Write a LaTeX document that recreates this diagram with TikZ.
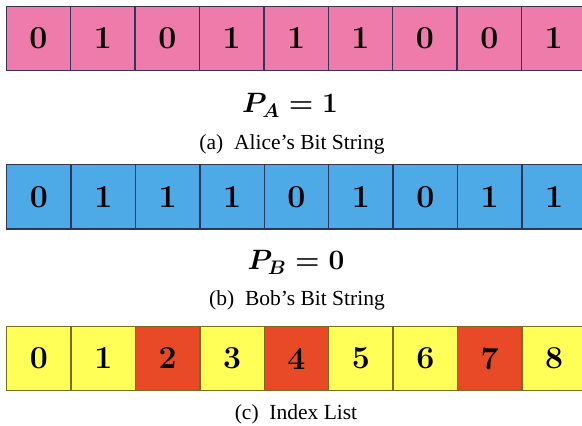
\RequirePackage{fix-cm}
\documentclass[tikz,border=0pt]{standalone}
\usepackage{amsmath}
\usepackage[no-math]{fontspec}
\newfontfamily\capfont{Liberation Serif}
\definecolor{pinkc}{HTML}{EE7BAA}
\definecolor{bluec}{HTML}{4DAAE6}
\definecolor{yellowc}{HTML}{FFFF57}
\definecolor{redc}{HTML}{E84A27}
\definecolor{navyb}{HTML}{2E3856}
\definecolor{oliveb}{HTML}{7D6A1E}
\tikzset{
  cell/.style={draw=navyb, line width=1.5pt, minimum width=64.4pt, minimum height=64.4pt, inner sep=0pt, outer sep=0pt,
    font=\fontsize{32}{32}\selectfont\bfseries},
  pcell/.style={cell, fill=pinkc},
  bcell/.style={cell, fill=bluec},
  ycell/.style={cell, fill=yellowc, draw=oliveb},
  rcell/.style={cell, fill=redc, draw=oliveb},
  plabel/.style={anchor=base, inner sep=0pt, font=\fontsize{28}{28}\selectfont\boldmath},
  caption/.style={anchor=base, inner sep=0pt, font=\capfont\fontsize{21.5}{22}\selectfont}
}
\newcommand{\beq}{\mathrel{\textbf{=}}}
\begin{document}
\begin{tikzpicture}[x=1pt,y=1pt]
\useasboundingbox (0,0) rectangle (582,426);
\clip (0,0) rectangle (582,426);
\foreach \v [count=\i from 0] in {0,1,0,1,1,1,0,0,1}
  \node[pcell] (a\i) at (38.5+64.4*\i, 387.5) {\v};
\foreach \v [count=\i from 0] in {0,1,1,1,0,1,0,1,1}
  \node[bcell] (b\i) at (38.9+64.4*\i, 229.2) {\v};
\foreach \v/\s [count=\i from 0] in {0/ycell,1/ycell,2/rcell,3/ycell,4/rcell,5/ycell,6/ycell,7/rcell,8/ycell}
  \node[\s] (c\i) at (38.9+64.4*\i, 67.5) {\v};
\node[plabel] (pa) at (290,313) {$P_A \beq \textbf{1}$};
\node[caption] (capa) at (292,276) {(a)\enspace Alice’s Bit String};
\node[plabel] (pb) at (296,156) {$P_B \beq \textbf{0}$};
\node[caption] (capb) at (297,120) {(b)\enspace Bob’s Bit String};
\node[caption] (capc) at (296,6.5) {(c)\enspace Index List};
\end{tikzpicture}
\end{document}
